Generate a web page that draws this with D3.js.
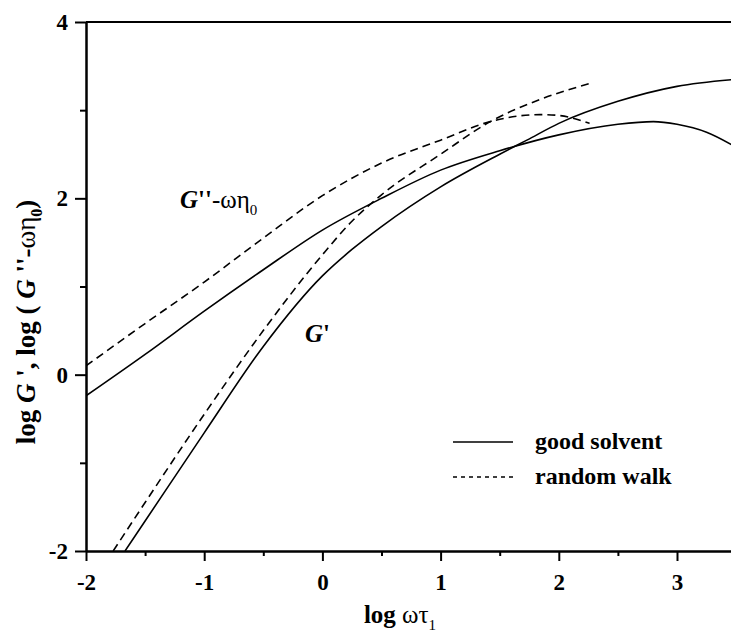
<!DOCTYPE html>
<html>
<head>
<meta charset="utf-8">
<script src="https://cdn.jsdelivr.net/npm/d3@7"></script>
<style>
  body { margin: 0; background: #fff; }
  svg text { font-family: "Liberation Serif", "Times New Roman", serif; fill: #000; }
  .axis path, .axis line { stroke: #000; stroke-width: 2; }
  .axis text { font-size: 23px; font-weight: bold; font-family: "Liberation Serif", "Times New Roman", serif; }
</style>
</head>
<body>
<div id="chart"></div>
<script>
// log(omega tau1) positions and curve values
var gsLossX = [-2, -1.5, -1, -0.5, 0, 0.5, 1, 1.5, 2, 2.5, 2.8, 3, 3.25, 3.5];
var gsLossY = [-0.24, 0.23, 0.72, 1.19, 1.64, 2.0, 2.32, 2.54, 2.72, 2.84, 2.87, 2.84, 2.75, 2.58];

var gsStoreX = [-1.67, -1.5, -1, -0.5, 0, 0.25, 0.5, 1, 1.5, 1.73, 2, 2.5, 3, 3.5];
var gsStoreY = [-2, -1.66, -0.66, 0.32, 1.12, 1.42, 1.68, 2.13, 2.5, 2.66, 2.85, 3.1, 3.27, 3.35];

var rwLossX = [-2, -1.5, -1, -0.5, 0, 0.5, 1, 1.42, 1.84, 2, 2.26];
var rwLossY = [0.1, 0.58, 1.05, 1.55, 2.03, 2.4, 2.66, 2.87, 2.95, 2.94, 2.85];

var rwStoreX = [-1.77, -1.5, -1, -0.5, 0, 0.25, 0.5, 1, 1.42, 1.84, 2.28];
var rwStoreY = [-2, -1.45, -0.45, 0.5, 1.36, 1.74, 2.04, 2.5, 2.87, 3.12, 3.31];

var xMajor = [-2, -1, 0, 1, 2, 3];
var xMinor = [-1.5, -0.5, 0.5, 1.5, 2.5];
var yMajor = [-2, 0, 2, 4];
var yMinor = [-1, 1, 3];

var legendNames = ["good solvent", "random walk"];
var legendDash = [null, "4,4"];

var width = 731, height = 644;
var svg = d3.select("#chart").append("svg")
    .attr("width", width)
    .attr("height", height);

var x = d3.scaleLinear().domain([-2, 3.5]).range([86, 86 + 5.5 * 118.2]);
var y = d3.scaleLinear().domain([-2, 4]).range([551, 22]);

svg.append("clipPath").attr("id", "plotclip")
  .append("rect")
    .attr("x", x(-2)).attr("y", y(4))
    .attr("width", width - x(-2)).attr("height", y(-2) - y(4));

function pts(xs, ys) {
  return xs.map(function(d, i) { return [d, ys[i]]; });
}

var line = d3.line()
    .curve(d3.curveMonotoneX)
    .x(function(d) { return x(d[0]); })
    .y(function(d) { return y(d[1]); });

var curves = [
  {data: pts(gsLossX, gsLossY), dash: null},
  {data: pts(gsStoreX, gsStoreY), dash: null},
  {data: pts(rwLossX, rwLossY), dash: "8,5"},
  {data: pts(rwStoreX, rwStoreY), dash: "8,5"}
];

svg.append("g").attr("clip-path", "url(#plotclip)")
  .selectAll("path")
  .data(curves)
  .enter().append("path")
    .attr("d", function(d) { return line(d.data); })
    .attr("fill", "none")
    .attr("stroke", "#000")
    .attr("stroke-width", 1.6)
    .attr("stroke-dasharray", function(d) { return d.dash; });

var fmt = function(d) { return String(d); };   // plain hyphen for negatives

// axes: major ticks with labels, minor ticks without
svg.append("g").attr("class", "axis")
    .attr("transform", "translate(0," + y(-2) + ")")
    .call(d3.axisBottom(x).tickValues(xMajor).tickSize(10).tickSizeOuter(0).tickPadding(13).tickFormat(fmt));
svg.append("g").attr("class", "axis")
    .attr("transform", "translate(0," + y(-2) + ")")
    .call(d3.axisBottom(x).tickValues(xMinor).tickSize(5).tickSizeOuter(0).tickFormat(""));

svg.append("g").attr("class", "axis")
    .attr("transform", "translate(" + x(-2) + ",0)")
    .call(d3.axisLeft(y).tickValues(yMajor).tickSize(11).tickSizeOuter(0).tickPadding(7).tickFormat(fmt));
svg.append("g").attr("class", "axis")
    .attr("transform", "translate(" + x(-2) + ",0)")
    .call(d3.axisLeft(y).tickValues(yMinor).tickSize(6).tickSizeOuter(0).tickFormat(""));

// top frame line
svg.append("line")
    .attr("x1", x(-2)).attr("x2", width)
    .attr("y1", y(4)).attr("y2", y(4))
    .attr("stroke", "#000").attr("stroke-width", 2);

// axis titles
var xt = svg.append("text")
    .attr("x", 400).attr("y", 623)
    .attr("text-anchor", "middle")
    .style("font-size", "25px");
xt.append("tspan").style("font-weight", "bold").text("log ");
xt.append("tspan").text("ωτ");
xt.append("tspan").attr("dy", 7).style("font-size", "15px").text("1");

var yt = svg.append("text")
    .attr("transform", "translate(35,322) rotate(-90)")
    .attr("text-anchor", "middle")
    .style("font-size", "27px")
    .style("font-weight", "bold");
yt.append("tspan").text("log\u00a0");
yt.append("tspan").style("font-style", "italic").text("G");
yt.append("tspan").text("\u00a0', log\u00a0(\u00a0");
yt.append("tspan").style("font-style", "italic").text("G");
yt.append("tspan").text("\u00a0''-");
yt.append("tspan").style("font-weight", "normal").text("ωη");
yt.append("tspan").attr("dy", 7).style("font-size", "16px").text("0");
yt.append("tspan").attr("dy", -7).text(")");

// curve annotations
var a1 = svg.append("text")
    .attr("x", 180).attr("y", 208)
    .style("font-size", "25px");
a1.append("tspan").style("font-style", "italic").style("font-weight", "bold").text("G");
a1.append("tspan").style("font-weight", "bold").text("''");
a1.append("tspan").text("-ωη");
a1.append("tspan").attr("dy", 7).style("font-size", "15px").text("0");

var a2 = svg.append("text")
    .attr("x", 305).attr("y", 342)
    .style("font-size", "25px")
    .style("font-weight", "bold");
a2.append("tspan").style("font-style", "italic").text("G");
a2.append("tspan").text("'");

// legend
var legend = svg.append("g").selectAll("g")
    .data(legendNames)
    .enter().append("g")
    .attr("transform", function(d, i) { return "translate(453," + (442 + i * 35) + ")"; });

legend.append("line")
    .attr("x1", 0).attr("x2", 60)
    .attr("stroke", "#000").attr("stroke-width", 1.6)
    .attr("stroke-dasharray", function(d, i) { return legendDash[i]; });

legend.append("text")
    .attr("x", 82).attr("y", 7)
    .style("font-size", "24px")
    .style("font-weight", "bold")
    .text(function(d) { return d; });
</script>
</body>
</html>
